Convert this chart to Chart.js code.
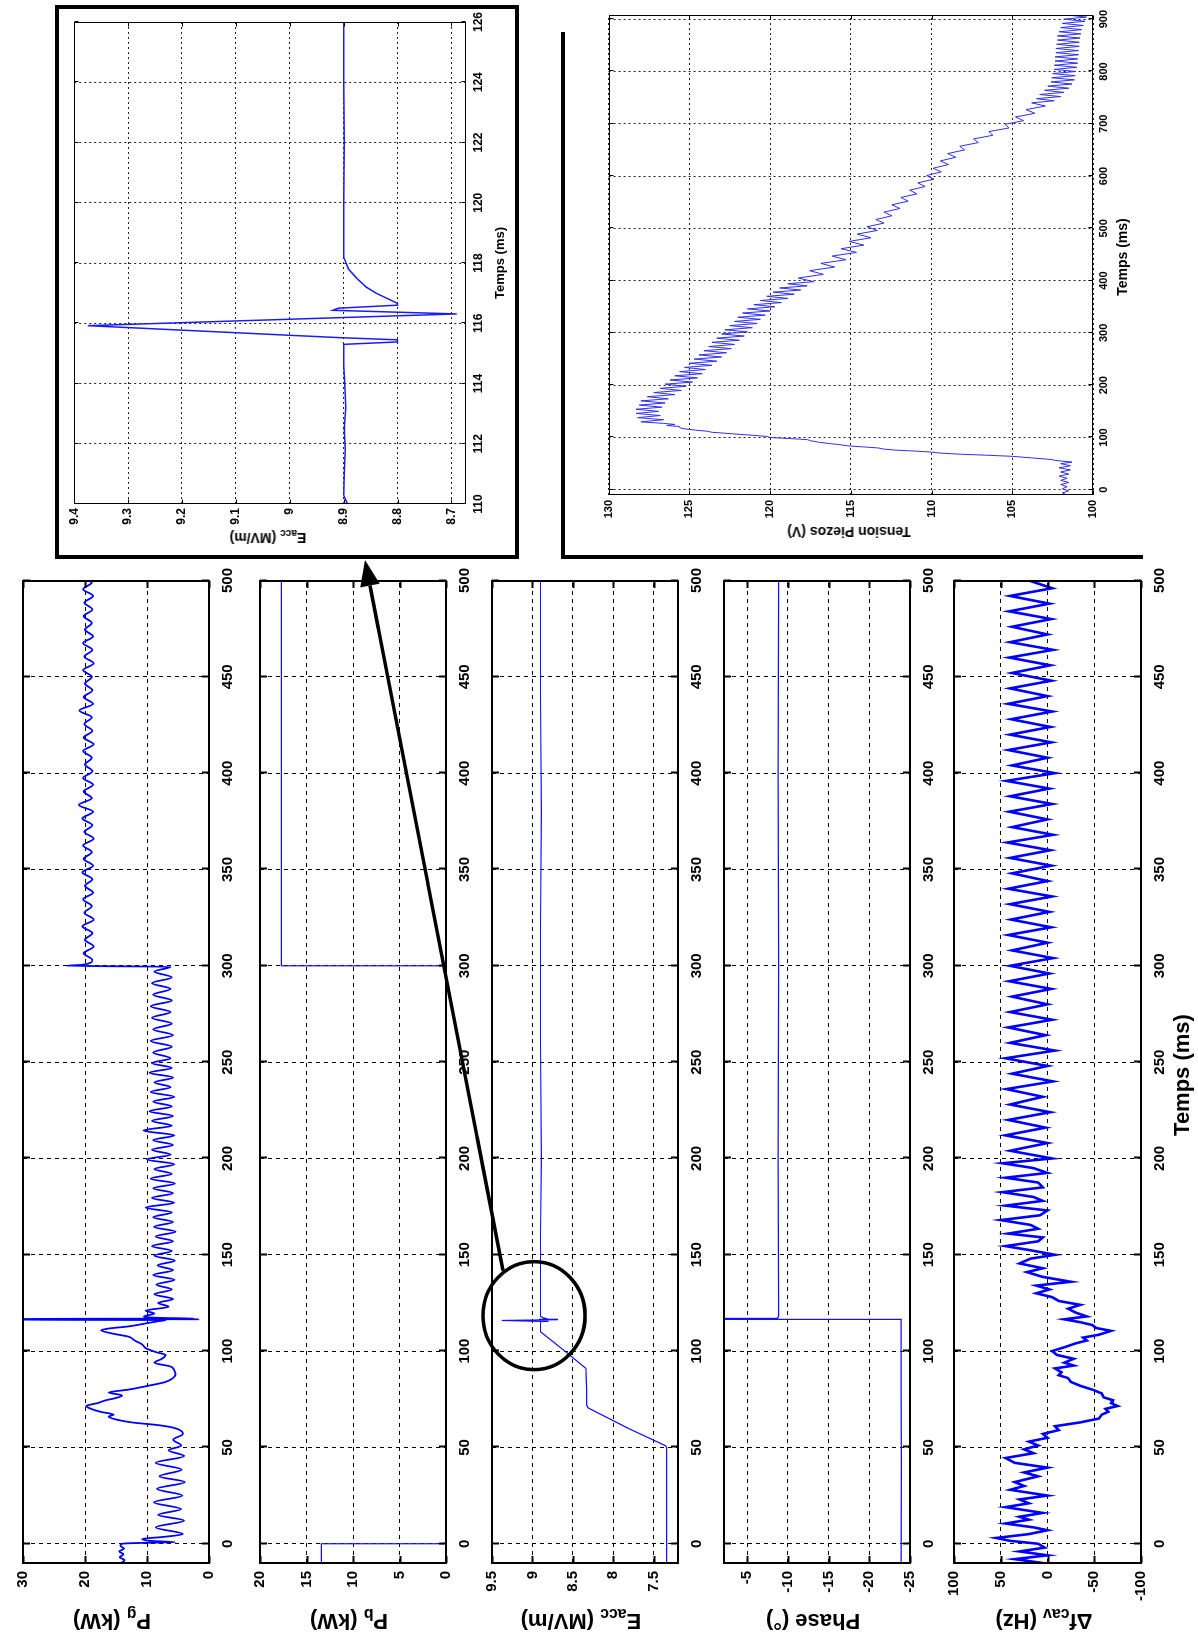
<!DOCTYPE html>
<html>
<head>
<meta charset="utf-8">
<script src="https://cdn.jsdelivr.net/npm/chart.js@4.4.1/dist/chart.umd.min.js"></script>
<style>
  html, body { margin: 0; padding: 0; width: 1198px; height: 1648px; overflow: hidden; background: #fff; }
  /* the figure is laid out upright, then turned a quarter turn like the scan */
  #fig {
    position: absolute; left: 0; top: 0; width: 1648px; height: 1198px;
    transform-origin: 0 0; transform: translate(0, 1648px) rotate(-90deg);
    font-family: "Liberation Sans", Arial, sans-serif; font-weight: bold; color: #000;
  }
  #fig canvas { position: absolute; }
  .lab { position: absolute; white-space: nowrap; line-height: 1; transform: translate(-50%, -50%); }
  .lab.v { transform: translate(-50%, -50%) rotate(-90deg); }
  .lab sub { font-size: 0.72em; vertical-align: -0.3em; line-height: 0; }
  #overlay { position: absolute; left: 0; top: 0; }
</style>
</head>
<body>
<div id="fig"></div>
<script>
// ---- tick labels ----
const timeTicks = [0, 50, 100, 150, 200, 250, 300, 350, 400, 450, 500];
const pgTicks = [0, 10, 20, 30];
const pbTicks = [0, 5, 10, 15, 20];
const eaccTicks = [7.5, 8, 8.5, 9, 9.5];
const phaseTicks = [-25, -20, -15, -10, -5];
const dfTicks = [-100, -50, 0, 50, 100];
const zoomTimeTicks = [110, 112, 114, 116, 118, 120, 122, 124, 126];
const zoomEaccTicks = [8.7, 8.8, 8.9, 9, 9.1, 9.2, 9.3, 9.4];
const piezoTimeTicks = [0, 100, 200, 300, 400, 500, 600, 700, 800, 900];
const piezoTicks = [100, 105, 110, 115, 120, 125, 130];

// ---- P_g (kW) ----
const pgTime = [
  -10, -8.5, -7, -5.5, -4, -2.5, -1, 0, 0.4, 0.8,
  1.5, 2.5, 3.5, 5, 8.5, 12, 15, 18, 21.5, 25,
  28.5, 32, 35, 38.5, 42, 45.5, 48.5, 51, 54, 57,
  60, 61.5, 63, 64.5, 66, 67, 68.5, 70, 71.5, 73,
  74.5, 75.5, 77, 78.5, 80, 82, 84, 86, 88, 90,
  92, 94, 96, 98, 99.5, 101.5, 103.5, 105.5, 107.5, 109,
  110.8, 111.8, 112.8, 114.5, 115.5, 116.1, 116.3, 116.5, 116.7, 116.9,
  117.2, 118, 119.5, 121, 123, 125, 127, 129.5, 132, 134.5,
  137, 139.5, 142, 144.5, 147, 149.5, 152, 154.5, 157, 159.5,
  162, 164.5, 167, 169.5, 172, 174.5, 177, 179.5, 182, 184.5,
  187, 189.5, 192, 194.5, 197, 199.5, 202, 204.5, 207, 209.5,
  212, 214.5, 217, 219.5, 222, 224.5, 227, 229.5, 232, 234.5,
  237, 239.5, 242, 244.5, 247, 249.5, 252, 255, 258, 261,
  264, 267, 270, 273, 276, 279, 282, 285, 288, 291,
  294, 297, 299.5, 300, 300.5, 303, 306.5, 310, 313.5, 317,
  320.5, 324, 327.5, 331, 334.5, 338, 341.5, 345, 348.5, 352,
  355.5, 359, 362.5, 366, 369.5, 373, 376.5, 380, 383.5, 387,
  390.5, 394, 397.5, 401, 404.5, 408, 411.5, 415, 418.5, 422,
  425.5, 429, 432.5, 436, 439.5, 443, 446.5, 450, 453.5, 457,
  460.5, 464, 467.5, 471, 474.5, 478, 481.5, 485, 488.5, 492,
  495.5, 499, 500
];
const pgVal = [
  14.2, 13.6, 14.4, 13.8, 14.5, 13.7, 14.3, 14.0, 11.5, 5.5,
  9.5, 10.8, 7.5, 4.2, 8.6, 4.0, 8.2, 4.5, 8.9, 4.3,
  8.4, 3.9, 8.0, 4.4, 8.6, 4.0, 6.5, 4.5, 5.8, 4.2,
  5.5, 8.0, 12.5, 15.0, 16.2, 15.4, 17.5, 19.0, 19.8, 18.0,
  16.6, 15.2, 14.0, 16.2, 13.0, 9.8, 7.0, 5.8, 5.4, 5.6,
  6.2, 8.8, 7.6, 7.0, 8.6, 10.2, 10.8, 12.0, 13.0, 15.4,
  17.4, 16.0, 13.0, 10.0, 8.2, 7.0, 34, 1.6, 34, 2.5,
  7.5, 10.5, 8.8, 10.2, 6.5, 8.2, 5.8, 8.8, 6.0, 8.5,
  5.6, 9.0, 5.8, 8.3, 5.5, 8.8, 6.0, 9.2, 5.8, 8.6,
  5.4, 8.9, 5.8, 9.0, 6.0, 10.2, 5.6, 9.2, 5.8, 9.0,
  5.5, 9.4, 6.0, 8.8, 5.6, 10.0, 6.2, 9.2, 5.8, 9.0,
  5.6, 10.6, 6.0, 9.2, 5.8, 9.6, 6.0, 9.0, 5.6, 9.4,
  6.2, 8.8, 5.8, 9.6, 6.0, 9.2, 6.2, 9.0, 6.0, 9.4,
  5.8, 9.0, 6.0, 9.2, 6.2, 9.4, 6.0, 9.0, 6.2, 9.2,
  6.0, 8.8, 6.2, 23.0, 20.5, 18.8, 20.2, 18.6, 20.0, 18.8,
  20.4, 18.6, 20.1, 18.9, 20.3, 18.7, 20.0, 18.8, 20.4, 18.7,
  20.2, 18.9, 20.3, 18.6, 20.1, 18.8, 20.4, 18.7, 21.0, 18.9,
  20.2, 18.7, 20.3, 18.8, 20.0, 18.9, 20.3, 18.6, 20.2, 18.8,
  20.1, 18.9, 20.9, 18.7, 20.2, 18.8, 20.0, 18.9, 20.3, 18.6,
  20.1, 18.8, 20.3, 18.7, 20.0, 18.9, 20.2, 18.8, 20.1, 18.7,
  20.3, 18.9, 19.4
];

// ---- P_b (kW) ----
const pbTime = [-10, 0, 0, 300, 300, 500];
const pbVal = [13.4, 13.4, 0, 0, 17.7, 17.7];

// ---- E_acc (MV/m) ----
const eaccTime = [-10, 20, 50, 51, 60, 70.5, 72, 80, 91, 100,
  110, 115.3, 115.4, 115.5, 115.9, 116.3, 116.45, 116.6, 117.2, 118,
  160, 200, 260, 320, 380, 440, 500];
const eaccVal = [7.34, 7.34, 7.34, 7.36, 7.82, 8.31, 8.33, 8.33, 8.34, 8.6,
  8.9, 8.9, 8.8, 8.9, 9.38, 8.69, 8.92, 8.8, 8.86, 8.9,
  8.9, 8.89, 8.9, 8.9, 8.89, 8.9, 8.9];

// ---- Phase (deg) ----
const phaseTime = [-10, 40, 80, 116.2, 116.35, 116.5, 116.55, 116.7, 116.85, 117.1, 118, 200, 300, 400, 500];
const phaseVal = [-23.9, -23.95, -23.9, -23.9, -12.7, -13.0, 0, -8.2, 0, -8.7, -8.85, -8.8, -8.85, -8.8, -8.85];

// ---- Delta f_cav (Hz) ----
const dfTime = [
  -10, -8, -6, -4, -2, 0, 1.5, 3, 5, 7,
  8.5, 10.5, 12.5, 14, 16, 19, 21, 23, 25, 28,
  30, 32, 35, 37, 39.5, 42, 44.5, 47, 49, 51,
  53, 55, 57, 59, 61, 63, 65, 67, 68.5, 70,
  71.5, 73, 74.5, 76, 78, 80, 82, 84, 86, 87.5,
  89, 91, 92.5, 94, 96, 98, 100, 102, 104, 105.5,
  107, 108.5, 110.5, 112, 113.5, 115, 116.5, 118, 120, 122,
  124, 126, 128, 130, 132, 134, 136, 138.5, 141, 143,
  145.5, 148, 150, 152.5, 154.5, 157, 159, 161, 163.5, 165.5,
  168, 170.5, 173, 175.5, 178, 180, 182.5, 185, 187.5, 190,
  192.5, 195, 197.5, 200, 204, 208, 212, 216, 220, 224,
  228, 232, 236, 240, 244, 248, 252, 256, 260, 264,
  268, 272, 276, 280, 284, 288, 292, 296, 300, 304,
  308, 312, 316, 320, 324, 328, 332, 336, 340, 344,
  348, 352, 356, 360, 364, 368, 372, 376, 380, 384,
  388, 392, 396, 400, 404, 408, 412, 416, 420, 424,
  428, 432, 436, 440, 444, 448, 452, 456, 460, 464,
  468, 472, 476, 480, 484, 488, 492, 496, 500
];
const dfVal = [
  5, 35, 0, 30, 3, 10, 40, 55, 20, 0,
  15, 45, 20, 30, 5, 45, 20, 30, 0, 40,
  25, 35, 10, 25, 0, 35, 45, 15, 25, 10,
  20, 0, 5, -12, -8, -35, -55, -58, -65, -62,
  -75, -68, -70, -60, -58, -48, -35, -25, -22, -12,
  -15, -8, -28, -18, -28, -10, -5, -18, -30, -42,
  -38, -55, -68, -52, -48, -35, -18, -42, -30, -22,
  -35, -12, -5, 12, -2, 12, -25, 5, 22, 5,
  30, 18, -8, 20, 45, 10, 5, 42, 10, 18,
  50, 8, 0, 45, 5, 15, 48, 5, 10, 45,
  0, 15, 48, -5, 40, 0, 45, 2, 42, -3,
  40, 5, 44, -6, 38, 0, 45, -8, 40, 2,
  42, -5, 40, 0, 38, -4, 41, -2, 40, -6,
  38, 0, 42, -4, 39, -2, 40, -5, 42, 0,
  38, -4, 40, -3, 43, -6, 38, 0, 41, -5,
  40, -2, 44, -8, 38, 0, 42, -4, 40, -3,
  39, -5, 42, 0, 40, -4, 38, -3, 41, -6,
  40, 0, 38, -4, 41, -2, 40, -5, 20
];

// ---- zoom on E_acc around the quench (inset) ----
const zoomTime = [110, 110.3, 111, 111.8, 112.5, 113.2, 114, 114.6, 115.3, 115.38,
  115.45, 115.52, 115.92, 116.31, 116.43, 116.5, 116.6, 116.66, 117.0, 117.2,
  117.5, 117.8, 118.2, 120, 122, 124, 126];
const zoomVal = [8.893, 8.9, 8.899, 8.897, 8.899, 8.896, 8.898, 8.9, 8.9, 8.8,
  8.8, 8.905, 9.375, 8.69, 8.92, 8.91, 8.8, 8.8, 8.84, 8.858,
  8.876, 8.891, 8.9, 8.9, 8.899, 8.9, 8.9];

// ---- Tension Piezos (V) ----
const piezoTime = [
  -10, -6, -2, 2, 6, 10, 14, 18, 22, 26,
  30, 34, 38, 42, 46, 50, 53, 56, 58, 61,
  64, 66, 68, 70, 72, 74, 76, 78, 80, 82,
  84, 86, 88, 91, 94, 96, 98, 100, 102, 104,
  107, 110, 112, 114, 117, 119, 121, 123, 125, 127,
  130, 134, 138, 142, 146, 150, 154, 158, 162, 166,
  170, 174, 178, 182, 186, 190, 194, 198, 202, 206,
  210, 214, 218, 222, 226, 230, 234, 238, 242, 246,
  250, 254, 258, 262, 266, 270, 274, 278, 282, 286,
  290, 294, 298, 302, 306, 310, 314, 318, 322, 326,
  330, 334, 338, 342, 346, 350, 354, 358, 362, 366,
  370, 374, 378, 382, 386, 390, 394, 398,
  405, 412, 419, 426, 433, 440, 447, 454, 461, 468,
  475, 482, 489, 496, 503, 510, 517, 524, 531, 538,
  545, 552, 559, 566, 573, 580, 587, 594, 601, 608,
  615, 622, 629, 636, 643, 650, 657, 664, 671, 678,
  685, 692, 699, 706, 713, 720, 727, 734,
  740, 744, 748, 752, 756, 760, 764, 768, 772, 776,
  780, 784, 788, 792, 796, 800, 804, 808, 812, 816,
  820, 824, 828, 832, 836, 840, 844, 848, 852, 856,
  860, 864, 868, 872, 876, 880, 884, 888, 892, 896,
  900, 904, 908
];
const piezoVal = [
  101.6, 101.9, 101.5, 101.9, 101.6, 102.0, 101.5, 102.0, 101.6, 102.1,
  101.5, 102.0, 101.4, 102.1, 101.4, 102.0, 101.3, 102.3, 102.6, 103.8,
  105.0, 106.5, 108.2, 109.4, 110.0, 111.0, 112.3, 113.0, 113.3, 114.2,
  115.2, 115.6, 116.2, 117.0, 117.5, 117.7, 118.8, 120.0, 120.2, 121.0,
  122.3, 123.6, 123.9, 124.6, 125.4, 125.6, 125.6, 126.4, 125.9, 126.6,
  128.0, 126.6, 128.2, 126.8, 128.3, 126.9, 128.3, 126.7, 128.1, 126.5,
  128.0, 126.3, 127.6, 125.9, 127.2, 125.5, 126.8, 125.2, 126.5, 124.8,
  126.2, 124.5, 125.9, 124.2, 125.6, 124.0, 125.3, 123.6, 125.0, 123.3,
  124.7, 123.0, 124.4, 122.7, 124.1, 122.4, 123.8, 122.2, 123.6, 121.9,
  123.3, 121.6, 123.0, 121.4, 122.8, 121.1, 122.5, 120.8, 122.2, 120.6,
  122.0, 120.3, 121.7, 120.0, 121.4, 119.7, 121.0, 119.3, 120.6, 118.9,
  120.2, 118.5, 119.8, 118.1, 119.4, 117.7, 118.9, 117.3,
  118.25, 116.7, 117.55, 116.0, 116.85, 115.3, 116.15, 114.65, 115.6, 114.2,
  115.1, 113.75, 114.6, 113.35, 114.0, 112.95, 113.45, 112.45, 112.95, 111.95,
  112.45, 111.45, 111.9, 110.9, 111.35, 110.4, 110.85, 109.85, 110.3, 109.4,
  109.9, 108.95, 109.45, 108.5, 109.0, 107.95, 108.25, 107.1, 107.4, 106.2,
  106.45, 105.2, 105.45, 104.3, 104.8, 103.6, 104.15, 102.95,
  103.8, 102.4, 103.5, 102.0, 103.3, 101.8, 103.0, 101.5, 102.8, 101.3,
  102.6, 101.15, 102.55, 101.1, 102.5, 101.05, 102.4, 101.0, 102.4, 100.95,
  102.35, 100.95, 102.35, 100.9, 102.3, 100.9, 102.3, 100.85, 102.25, 100.85,
  102.2, 100.8, 102.2, 100.75, 102.1, 100.7, 102.0, 100.6, 101.9, 100.5,
  101.8, 100.4, 101.6
];

const fig = document.getElementById('fig');

// MATLAB style box: full frame plus short inward ticks on all four sides
const boxPlugin = {
  id: 'box',
  afterDraw(chart, args, opts) {
    const { ctx, chartArea: a, scales: { x, y } } = chart;
    const o = (opts.width % 2) ? 0.5 : 0;
    const L = Math.round(a.left) + o, R = Math.round(a.right) - o;
    const T = Math.round(a.top) + o, B = Math.round(a.bottom) - o;
    ctx.save();
    ctx.strokeStyle = '#000';
    ctx.lineWidth = opts.width;
    ctx.beginPath();
    x.ticks.forEach(t => {
      const p = Math.round(x.getPixelForValue(t.value)) + 0.5;
      ctx.moveTo(p, B); ctx.lineTo(p, B - opts.tick);
      ctx.moveTo(p, T); ctx.lineTo(p, T + opts.tick);
    });
    y.ticks.forEach(t => {
      const p = Math.round(y.getPixelForValue(t.value)) + 0.5;
      ctx.moveTo(L, p); ctx.lineTo(L + opts.tick, p);
      ctx.moveTo(R, p); ctx.lineTo(R - opts.tick, p);
    });
    ctx.stroke();
    ctx.strokeRect(L, T, R - L, B - T);
    ctx.restore();
  }
};

function plot(o) {
  const [px, py, pw, ph] = o.area;
  const [mt, mr, mb, ml] = o.margin;
  const cv = document.createElement('canvas');
  const w = ml + pw + mr, h = mt + ph + mb;
  cv.width = w; cv.height = h;
  Object.assign(cv.style, { left: (px - ml) + 'px', top: (py - mt) + 'px', width: w + 'px', height: h + 'px' });
  fig.appendChild(cv);
  const font = { family: 'Liberation Sans', size: o.font, weight: 'bold' };
  const axis = (range, ticks, pad) => ({
    type: 'linear', min: range[0], max: range[1],
    afterBuildTicks: s => { s.ticks = ticks.map(v => ({ value: v })); },
    ticks: { font, color: '#000', padding: pad, autoSkip: false, maxRotation: 0, minRotation: 0, callback: v => String(v) },
    grid: { color: o.gridColor, lineWidth: 1, drawTicks: false },
    border: { display: false, dash: o.dash }
  });
  const xs = axis(o.xRange, o.xTicks, o.xPad);
  xs.afterFit = s => { s.height = mb; };
  const ys = axis(o.yRange, o.yTicks, o.yPad);
  ys.afterFit = s => { s.width = ml; };
  const chart = new Chart(cv, {
    type: 'line',
    data: {
      datasets: [{
        data: o.t.map((t, i) => ({ x: t, y: o.v[i] })),
        borderColor: o.color, borderWidth: o.lw, pointRadius: 0, fill: false,
        tension: o.smooth ? 0.4 : 0,
        cubicInterpolationMode: o.smooth ? 'monotone' : 'default'
      }]
    },
    options: {
      responsive: false, animation: false, devicePixelRatio: 1, events: [],
      layout: { padding: { top: mt, right: mr, bottom: 0, left: 0 } },
      plugins: { legend: { display: false }, tooltip: { enabled: false }, box: { width: o.boxWidth, tick: o.tickLen } },
      scales: { x: xs, y: ys }
    },
    plugins: [boxPlugin]
  });
  chart.origin = [px - ml, py - mt];
  return chart;
}

function label(html, x, y, size, vertical) {
  const d = document.createElement('div');
  d.className = 'lab' + (vertical ? ' v' : '');
  d.innerHTML = html;
  Object.assign(d.style, { left: x + 'px', top: y + 'px', fontSize: size + 'px' });
  fig.appendChild(d);
}

// main stack of five panels
const main = { margin: [10, 22, 34, 70], font: 15, xPad: 10, yPad: 8, gridColor: '#000', dash: [4, 4],
  boxWidth: 2, tickLen: 7, xRange: [-10, 500], xTicks: timeTicks };
plot({ ...main, area: [85, 16, 983, 193], t: pgTime, v: pgVal, yRange: [0, 30], yTicks: pgTicks, color: '#0000ff', lw: 1.8, smooth: true });
plot({ ...main, area: [85, 253, 983, 193], t: pbTime, v: pbVal, yRange: [0, 20], yTicks: pbTicks, color: '#1010ff', lw: 1.2 });
const eaccChart = plot({ ...main, area: [85, 485, 983, 193], t: eaccTime, v: eaccVal, yRange: [7.2, 9.5], yTicks: eaccTicks, color: '#1010ff', lw: 1.2 });
plot({ ...main, area: [85, 717, 983, 193], t: phaseTime, v: phaseVal, yRange: [-25, -2.15], yTicks: phaseTicks, color: '#1010ff', lw: 1.2 });
plot({ ...main, area: [85, 947, 983, 194], t: dfTime, v: dfVal, yRange: [-100, 100], yTicks: dfTicks, color: '#0000ff', lw: 2.6 });

// inset: zoom on E_acc
plot({ area: [1144, 71, 482, 395], margin: [8, 15, 30, 45], font: 12, xPad: 5, yPad: 4, gridColor: '#222', dash: [2, 3],
  boxWidth: 1, tickLen: 4, xRange: [110, 126], xTicks: zoomTimeTicks, yRange: [8.673, 9.4], yTicks: zoomEaccTicks,
  t: zoomTime, v: zoomVal, color: '#1a1aff', lw: 1.5 });

// inset: piezo voltage
plot({ area: [1153, 605, 480, 488], margin: [8, 14, 30, 40], font: 11, xPad: 4, yPad: 5, gridColor: '#222', dash: [2, 3],
  boxWidth: 1, tickLen: 4, xRange: [-10, 908], xTicks: piezoTimeTicks, yRange: [100, 130], yTicks: piezoTicks,
  t: piezoTime, v: piezoVal, color: '#3030f0', lw: 1 });

// axis titles
label('P<sub>g</sub> (kW)', 27, 112, 22, true);
label('P<sub>b</sub> (kW)', 27, 349, 22, true);
label('E<sub>acc</sub> (MV/m)', 27, 581, 22, true);
label('Phase (°)', 27, 813, 22, true);
label('Δf<sub>cav</sub> (Hz)', 27, 1044, 22, true);
label('Temps (ms)', 573, 1182, 22, false);
label('E<sub>acc</sub> (MV/m)', 1110, 268, 14, true);
label('Temps (ms)', 1385, 499, 13, false);
label('Tension Piezos (V)', 1116, 849, 14, true);
label('Temps (ms)', 1391, 1122, 14, false);

// frames, circle and arrow
const NS = 'http://www.w3.org/2000/svg';
const svg = document.createElementNS(NS, 'svg');
svg.setAttribute('width', 1648);
svg.setAttribute('height', 1198);
svg.id = 'overlay';
fig.appendChild(svg);
function el(tag, attrs) {
  const e = document.createElementNS(NS, tag);
  for (const k in attrs) e.setAttribute(k, attrs[k]);
  svg.appendChild(e);
  return e;
}
el('rect', { x: 1091, y: 57, width: 550, height: 460, fill: 'none', stroke: '#000', 'stroke-width': 4 });
el('path', { d: 'M1091 1143 L1091 563 L1616 563', fill: 'none', stroke: '#000', 'stroke-width': 4 });

const cx = eaccChart.origin[0] + eaccChart.scales.x.getPixelForValue(118.4);
const cy = eaccChart.origin[1] + eaccChart.scales.y.getPixelForValue(8.98);
el('ellipse', { cx, cy, rx: 54, ry: 51, fill: 'none', stroke: '#000', 'stroke-width': 3.5 });

const sx = cx + 45, sy = cy - 31;
const tx = 1088, ty = 365;
const len = Math.hypot(tx - sx, ty - sy);
const ux = (tx - sx) / len, uy = (ty - sy) / len;
const bx = tx - 26 * ux, by = ty - 26 * uy;
el('line', { x1: sx, y1: sy, x2: bx, y2: by, stroke: '#000', 'stroke-width': 3.5 });
el('polygon', { points: `${tx},${ty} ${bx - 10 * uy},${by + 10 * ux} ${bx + 10 * uy},${by - 10 * ux}`, fill: '#000' });
</script>
</body>
</html>
